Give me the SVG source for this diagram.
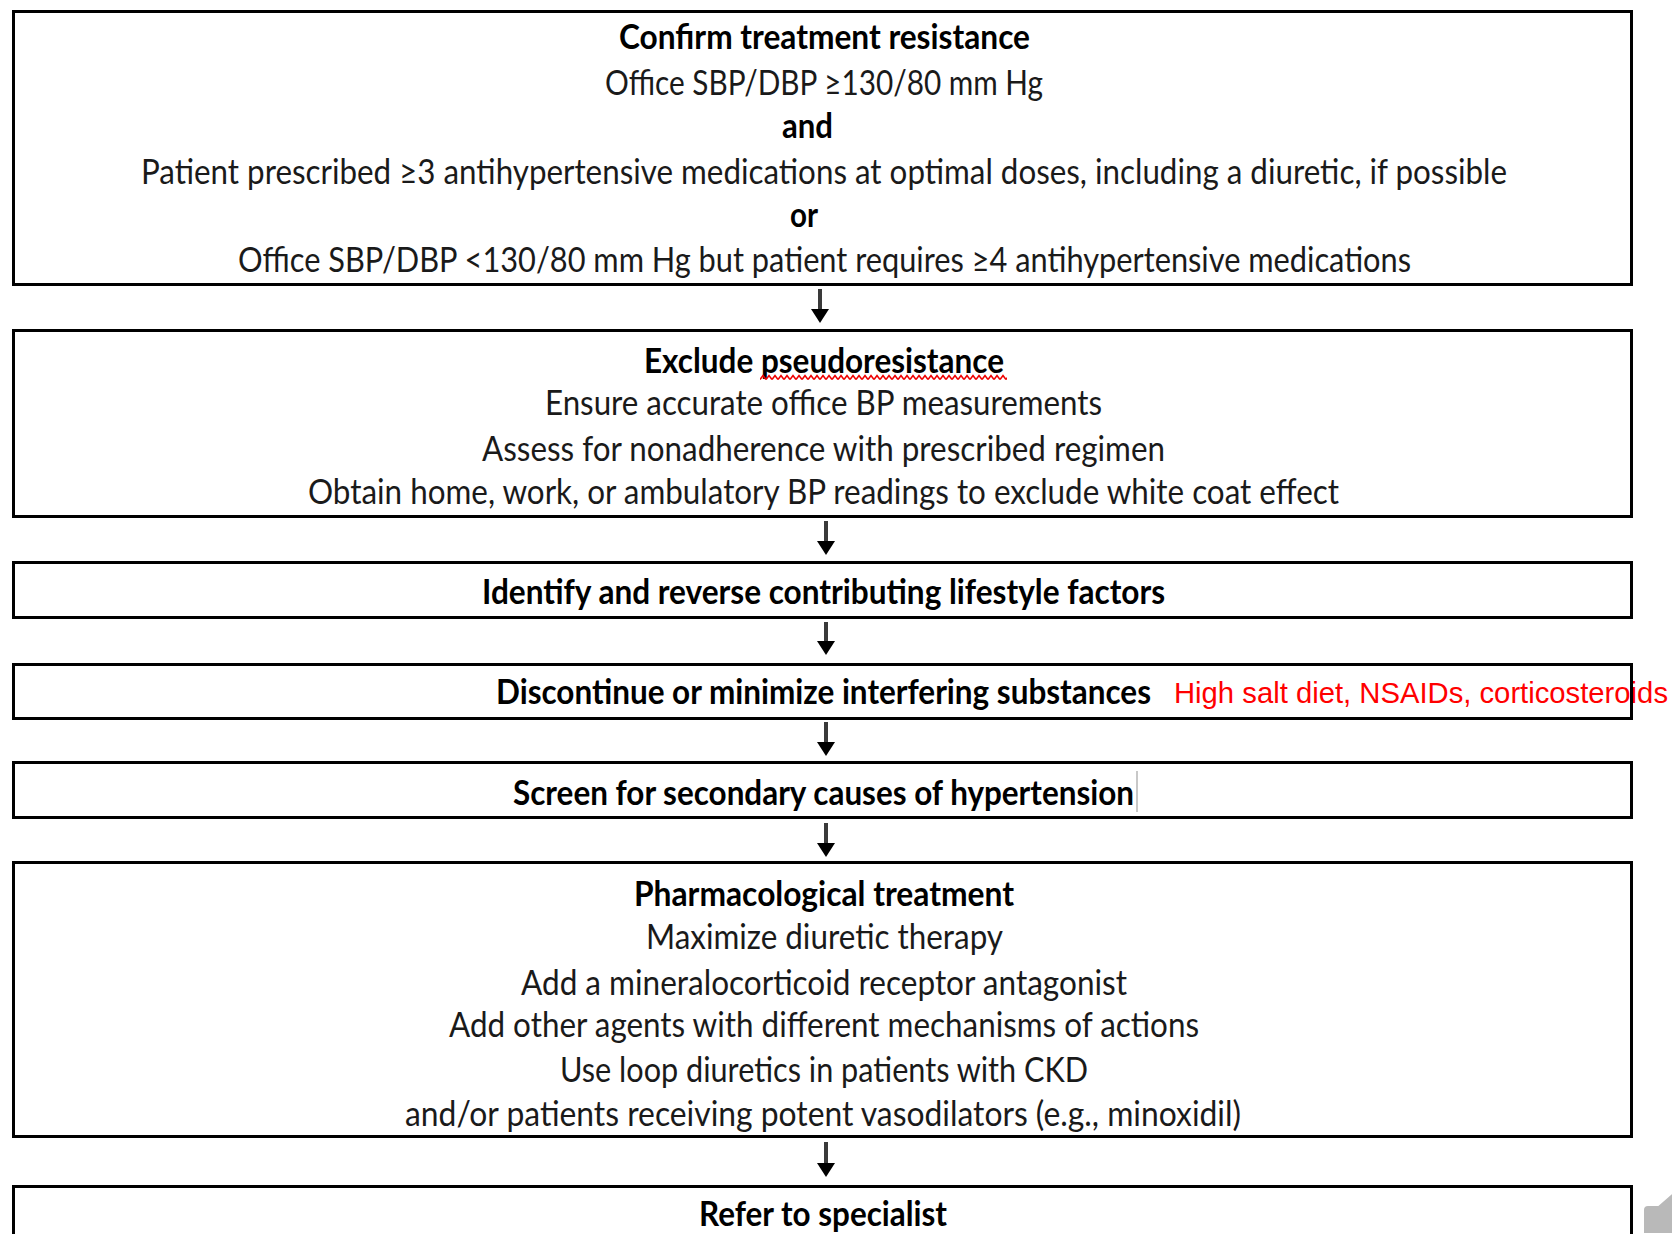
<svg xmlns="http://www.w3.org/2000/svg" width="1673" height="1234" viewBox="0 0 1673 1234">
<style>
.box{fill:none;stroke:#000;stroke-width:3}
.t{font-family:Lato,"Open Sans","Liberation Sans",sans-serif;font-size:34.5px;fill:#1a1a1a;text-anchor:middle}
.b{font-weight:bold;fill:#000}
.red{font-family:"Liberation Sans",Arial,sans-serif;font-size:29.5px;fill:#f00}
.shaft{stroke:#3a3a3a;stroke-width:4}
</style>
<defs>
<pattern id="wavy" x="760" y="374" width="6" height="7" patternUnits="userSpaceOnUse">
<path d="M0,5.5 L3,1.5 L6,5.5" fill="none" stroke="#e00" stroke-width="1.6"/>
</pattern>
</defs>
<rect width="1673" height="1234" fill="#fff"/>

<g id="connectors">
<line class="shaft" x1="820" y1="289" x2="820" y2="310"/><path d="M811,309 L829,309 L820,323 Z"/>
<line class="shaft" x1="826" y1="521" x2="826" y2="542"/><path d="M817,541 L835,541 L826,555 Z"/>
<line class="shaft" x1="826" y1="622" x2="826" y2="642"/><path d="M817,641 L835,641 L826,655 Z"/>
<line class="shaft" x1="826" y1="722" x2="826" y2="743"/><path d="M817,742 L835,742 L826,756 Z"/>
<line class="shaft" x1="826" y1="823" x2="826" y2="844"/><path d="M817,843 L835,843 L826,857 Z"/>
<line class="shaft" x1="826" y1="1142" x2="826" y2="1164"/><path d="M817,1163 L835,1163 L826,1177 Z"/>
</g>

<g id="node-confirm">
<rect class="box" x="13.5" y="11.5" width="1618" height="273"/>
<text class="t b" x="824.5" y="48.5" textLength="411" lengthAdjust="spacingAndGlyphs">Confirm treatment resistance</text>
<text class="t" x="824" y="94.5" textLength="438" lengthAdjust="spacingAndGlyphs">Office SBP/DBP ≥130/80 mm Hg</text>
<text class="t b" x="807.5" y="137.5" textLength="51" lengthAdjust="spacingAndGlyphs">and</text>
<text class="t" x="824" y="183.5" textLength="1366" lengthAdjust="spacingAndGlyphs">Patient prescribed ≥3 antihypertensive medications at optimal doses, including a diuretic, if possible</text>
<text class="t b" x="804" y="226.5" textLength="28" lengthAdjust="spacingAndGlyphs">or</text>
<text class="t" x="824.5" y="271.5" textLength="1173" lengthAdjust="spacingAndGlyphs">Office SBP/DBP &lt;130/80 mm Hg but patient requires ≥4 antihypertensive medications</text>
</g>

<g id="node-pseudo">
<rect class="box" x="13.5" y="330.5" width="1618" height="186"/>
<text class="t b" x="824" y="372.5" textLength="360" lengthAdjust="spacingAndGlyphs">Exclude pseudoresistance</text>
<rect x="760" y="374" width="247" height="7" fill="url(#wavy)"/>
<text class="t" x="823.5" y="414.5" textLength="557" lengthAdjust="spacingAndGlyphs">Ensure accurate office BP measurements</text>
<text class="t" x="823.5" y="460.5" textLength="683" lengthAdjust="spacingAndGlyphs">Assess for nonadherence with prescribed regimen</text>
<text class="t" x="823.5" y="503.5" textLength="1031" lengthAdjust="spacingAndGlyphs">Obtain home, work, or ambulatory BP readings to exclude white coat effect</text>
</g>

<g id="node-lifestyle">
<rect class="box" x="13.5" y="562.5" width="1618" height="55"/>
<text class="t b" x="823.5" y="603.5" textLength="683" lengthAdjust="spacingAndGlyphs">Identify and reverse contributing lifestyle factors</text>
</g>

<g id="node-substances">
<text class="t b" x="823.5" y="703.5" textLength="655" lengthAdjust="spacingAndGlyphs">Discontinue or minimize interfering substances</text>
<text class="red" x="1174" y="702.5" textLength="494" lengthAdjust="spacingAndGlyphs">High salt diet, NSAIDs, corticosteroids</text>
<rect class="box" x="13.5" y="664.5" width="1618" height="54"/>
</g>

<g id="node-secondary">
<rect class="box" x="13.5" y="762.5" width="1618" height="55"/>
<text class="t b" x="823.5" y="804.5" textLength="621" lengthAdjust="spacingAndGlyphs">Screen for secondary causes of hypertension</text>
<line x1="1137" y1="771" x2="1137" y2="812" stroke="#c8c8c8" stroke-width="2"/>
</g>

<g id="node-pharm">
<rect class="box" x="13.5" y="862.5" width="1618" height="274"/>
<text class="t b" x="824" y="905.5" textLength="380" lengthAdjust="spacingAndGlyphs">Pharmacological treatment</text>
<text class="t" x="824.5" y="948.5" textLength="357" lengthAdjust="spacingAndGlyphs">Maximize diuretic therapy</text>
<text class="t" x="824" y="994.5" textLength="606" lengthAdjust="spacingAndGlyphs">Add a mineralocorticoid receptor antagonist</text>
<text class="t" x="824" y="1036.5" textLength="750" lengthAdjust="spacingAndGlyphs">Add other agents with different mechanisms of actions</text>
<text class="t" x="824" y="1081.5" textLength="528" lengthAdjust="spacingAndGlyphs">Use loop diuretics in patients with CKD</text>
<text class="t" x="823" y="1125.5" textLength="836" lengthAdjust="spacingAndGlyphs">and/or patients receiving potent vasodilators (e.g., minoxidil)</text>
</g>

<g id="node-refer">
<path class="box" d="M13.5,1240 V1186.5 H1631.5 V1240"/>
<text class="t b" x="823" y="1226" textLength="248" lengthAdjust="spacingAndGlyphs">Refer to specialist</text>
</g>

<path d="M1648,1205 L1658,1205 L1673,1192 L1673,1234 L1643,1234 L1643,1210 Q1643,1205 1648,1205 Z" fill="#b9b9b9" stroke="#fff" stroke-width="2"/>
</svg>
